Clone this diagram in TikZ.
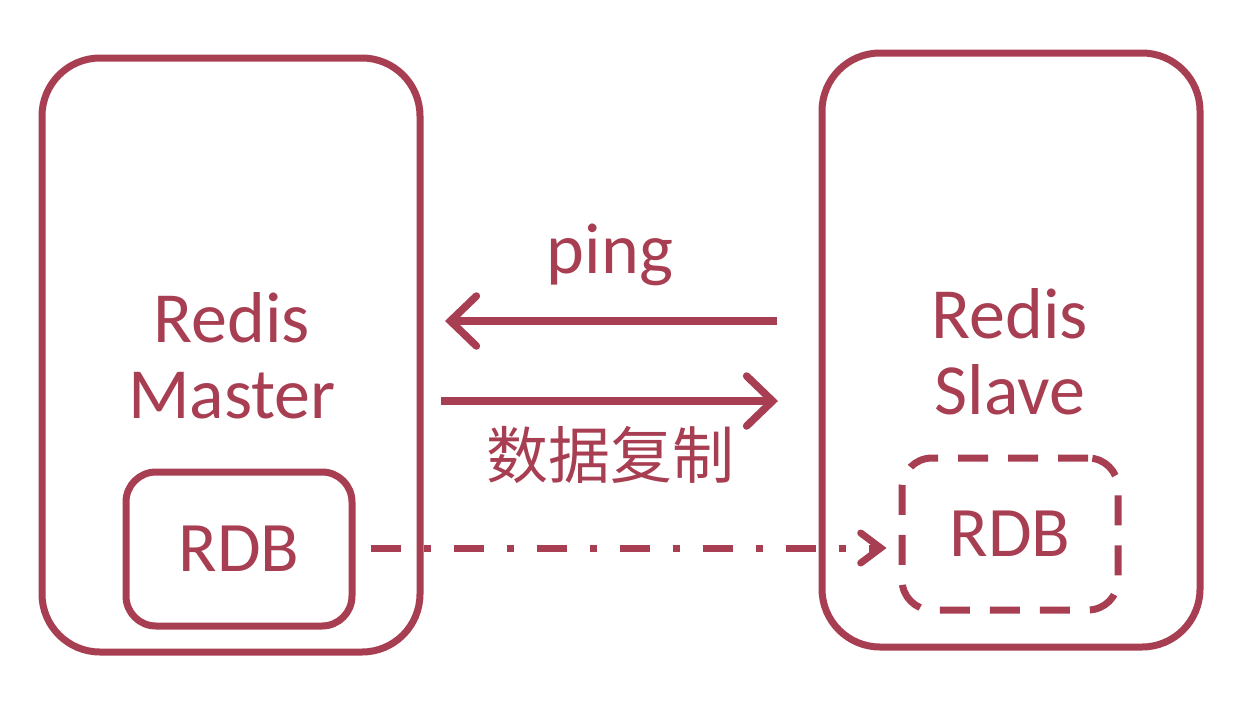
\documentclass[tikz,border=0pt]{standalone}
\usepackage{fontspec}
\setmainfont{Carlito}
\newfontfamily\cjk{Noto Sans CJK SC}
\usetikzlibrary{arrows.meta,calc}
\definecolor{rc}{RGB}{168,62,82}
\tikzset{
  bigbox/.style={draw=rc, line width=7pt, rounded corners=58pt, minimum width=378pt, minimum height=594pt, inner sep=0pt},
  rdbbox/.style={draw=rc, line width=7pt, rounded corners=30pt, inner sep=0pt, text=rc, font=\fontsize{71}{76}\selectfont},
  lbl/.style={text=rc, font=\fontsize{72}{76}\selectfont, align=center, inner sep=0pt},
  bigarrow/.style={draw=rc, line width=7.5pt, -{Straight Barb[length=26pt,width=50pt,line cap=round]}},
  dasharrow/.style={draw=rc, line width=7pt, dash pattern=on 30pt off 23pt on 7pt off 23pt, -{Straight Barb[length=20pt,width=30pt,line cap=round,line width=7pt]}}
}
\begin{document}
\begin{tikzpicture}[x=1pt,y=-1pt]
\useasboundingbox[fill=white] (0,0) rectangle (1238,712);
\node[bigbox] (master) at (231,355) {};
\node[bigbox] (slave) at (1011,350) {};
\node[rdbbox, minimum width=226pt, minimum height=154pt] (mrdb) at (239,549) {RDB};
\node[rdbbox, dash pattern=on 30pt off 20pt, minimum width=216pt, minimum height=152pt] (srdb) at (1010,534) {RDB};
\node[lbl] (mtext) at (232,356) {Redis\\Master};
\node[lbl] (stext) at (1010,352) {Redis\\Slave};
\node[lbl] (ping) at (610,255) {ping};
\node[lbl, font=\cjk\fontsize{62}{66}\selectfont] (copy) at (610,455) {数据复制};
\coordinate (p1) at (777,321);
\coordinate (p2) at (445,321);
\coordinate (d1) at (441,401);
\coordinate (d2) at (778,401);
\draw[bigarrow] (p1) -- (p2);
\draw[bigarrow] (d1) -- (d2);
\draw[dasharrow, shorten <=15pt, shorten >=12pt] (mrdb.east |- 0,548) -- (srdb.west |- 0,548);
\end{tikzpicture}
\end{document}
